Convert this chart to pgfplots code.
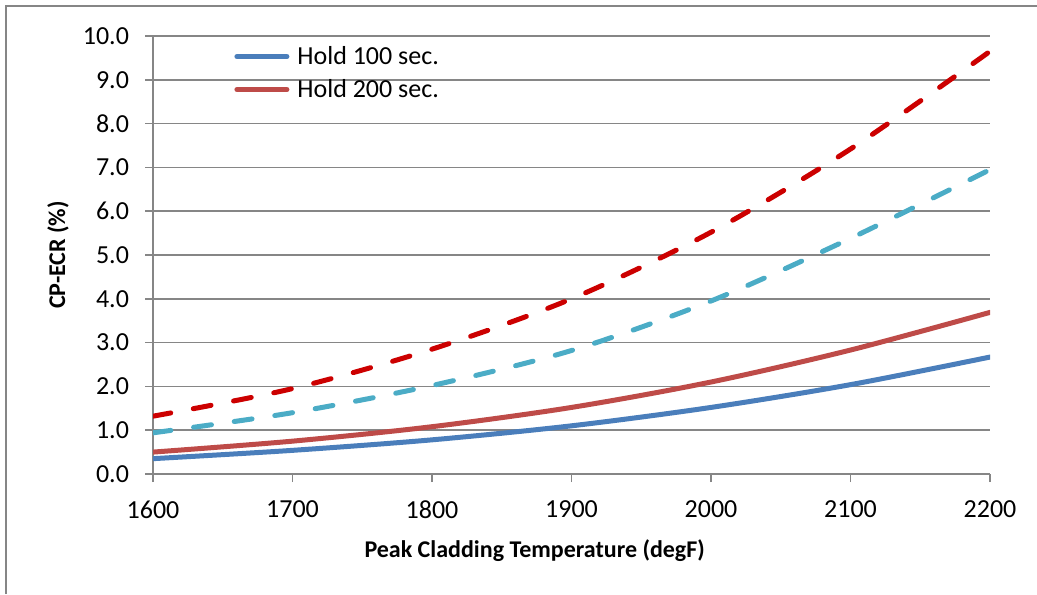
\documentclass[border=0pt]{standalone}
\usepackage{pgfplots}
\pgfplotsset{compat=1.18}
\usepackage{fontspec}
\setmainfont{Carlito}

\definecolor{holdA}{HTML}{4A7EBB}
\definecolor{holdB}{HTML}{BE4B48}
\definecolor{dashA}{HTML}{4BACC6}
\definecolor{dashB}{HTML}{CC0000}
\definecolor{axgray}{HTML}{868686}

\begin{document}
\begin{tikzpicture}
  \useasboundingbox (0,0) rectangle (518.5pt,297pt);
  \draw[axgray, line width=0.7pt] (3pt,0pt) -- (3pt,294pt) -- (518.5pt,294pt);
  \begin{axis}[
    at={(76.5pt,60pt)}, anchor=south west,
    scale only axis,
    width=418.5pt, height=219pt,
    xmin=1600, xmax=2200,
    ymin=0, ymax=10,
    xtick={1600,1700,...,2200},
    ytick={0,1,...,10},
    axis lines*=left,
    axis line style={axgray, line width=0.75pt},
    tick align=outside,
    major tick length=4pt,
    tick style={axgray, line width=0.75pt},
    ymajorgrids,
    grid style={axgray, line width=0.75pt},
    tick label style={font=\fontsize{13}{15}\selectfont},
    /pgf/number format/assume math mode=true,
    xticklabel style={/pgf/number format/set thousands separator={}, yshift=-6pt},
    yticklabel style={xshift=-4.5pt, /pgf/number format/fixed,
      /pgf/number format/fixed zerofill, /pgf/number format/precision=1},
    xlabel={\textbf{Peak Cladding Temperature (degF)}},
    ylabel={\textbf{CP-ECR (\%)}},
    label style={font=\fontsize{12}{14}\selectfont},
    xlabel style={at={(rel axis cs:0.456,-0.176)}, anchor=center},
    ylabel style={at={(rel axis cs:-0.1135,0.5)}, anchor=center},
    legend style={draw=none, fill=none, at={(0.0956,0.987)}, anchor=north west,
      font=\fontsize{13}{15}\selectfont, row sep=2pt, inner sep=0pt,
      nodes={inner sep=2pt}},
    legend cell align=left,
    legend image code/.code={\path (0pt,0pt) (27.5pt,0pt); \draw[#1, line cap=round] (0.5pt,0pt) -- (25.5pt,0pt);},
    every axis plot/.append style={line width=2.5pt, line cap=round},
  ]
    \addplot[holdA, smooth] coordinates {
      (1600,0.35) (1700,0.54) (1800,0.78) (1900,1.10) (2000,1.52) (2100,2.04) (2200,2.67)};
    \addplot[holdB, smooth] coordinates {
      (1600,0.50) (1700,0.75) (1800,1.08) (1900,1.52) (2000,2.10) (2100,2.83) (2200,3.69)};
    \addplot[dashA, smooth, dash pattern=on 9pt off 11.5pt] coordinates {
      (1600,0.94) (1700,1.40) (1800,2.02) (1900,2.82) (2000,3.95) (2100,5.38) (2200,6.95)};
    \addplot[dashB, smooth, dash pattern=on 9pt off 11.5pt] coordinates {
      (1600,1.32) (1700,1.95) (1800,2.85) (1900,4.00) (2000,5.52) (2100,7.42) (2200,9.65)};
    \legend{Hold 100 sec., Hold 200 sec.}
  \end{axis}
\end{tikzpicture}
\end{document}
